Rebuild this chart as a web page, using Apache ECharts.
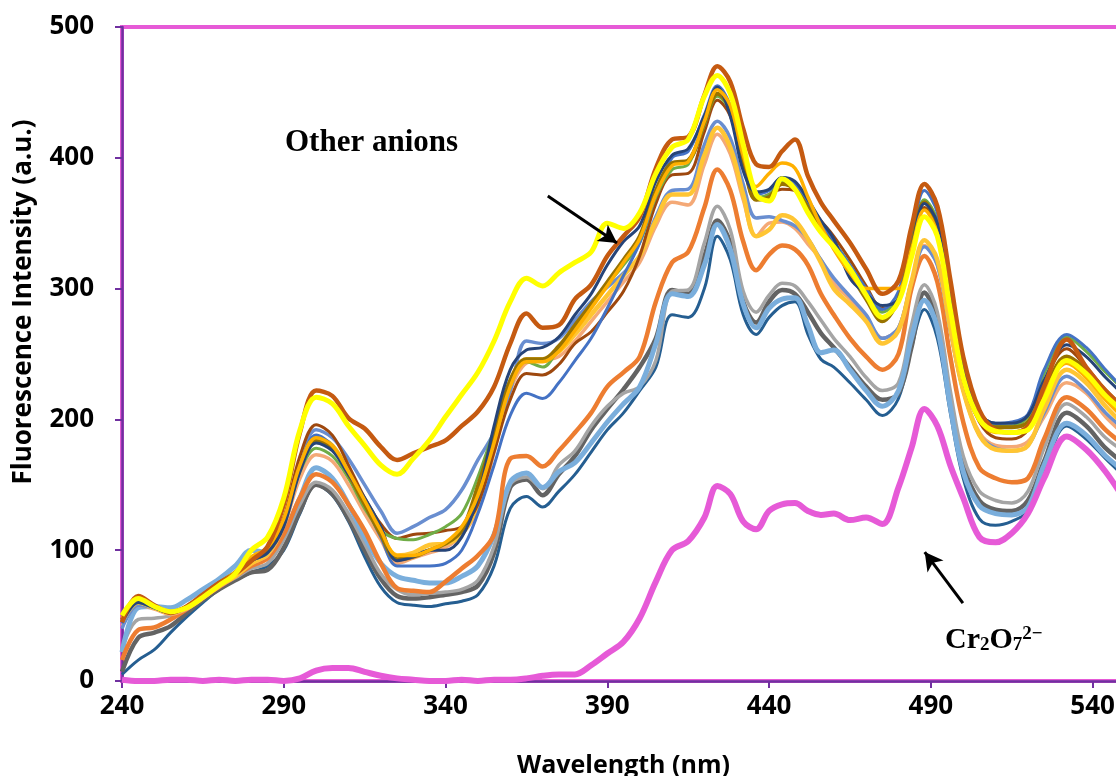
<!DOCTYPE html>
<html>
<head>
<meta charset="utf-8">
<title>Fluorescence spectra</title>
<script src="https://cdn.jsdelivr.net/npm/echarts@6/dist/echarts.min.js"></script>
<style>
  html, body { margin: 0; padding: 0; background: #fff; }
  #chart { width: 1116px; height: 776px; }
</style>
</head>
<body>
<div id="chart"></div>
<script>
// wavelength grid (nm), same for every curve
const wavelength = [240,245,250,255,260,265,270,275,280,285, 290,295,300,305,310,315,320,325,330,335,
  340,345,350,355,360,365,370,375,380,385, 390,395,400,405,410,415,420,424,428,432,
  436,440,444,448,452,456,460,465,470,475, 480,484,488,492,496,500,505,510,515,520,
  525,532,538,544,550];

// other anions - upper group
const darkOrange = [45,65,58,52,57,66,75,82,92,103, 135,190,222,218,201,193,179,169,174,179,
  184,195,206,225,258,281,270,272,292,303, 325,340,355,392,414,416,448,470,458,422,
  395,393,405,414,386,366,352,335,315,296, 306,347,380,363,307,248,207,192,190,195,
  225,261,240,222,208];
const yellow = [50,63,57,53,56,64,73,82,100,110, 140,192,217,212,195,180,165,158,170,184,
  202,219,236,260,290,308,302,312,320,328, 350,346,358,388,408,414,447,463,449,410,
  372,367,384,376,358,343,332,315,295,278, 290,324,355,340,284,232,200,191,190,192,
  215,245,235,218,205];
const navy = [45,60,56,52,56,65,74,82,92,98, 118,160,182,176,158,140,118,92,95,100,
  100,110,140,195,238,253,255,263,280,296, 318,336,348,382,402,407,432,454,432,390,
  374,376,385,382,368,352,338,308,296,287, 292,330,365,350,290,238,205,197,197,203,
  230,257,248,232,218];
const olive = [47,62,57,53,57,66,75,83,94,100, 122,163,184,178,158,135,112,93,95,100,
  105,115,149,188,230,246,246,256,272,288, 305,322,340,375,396,398,427,449,438,398,
  368,370,380,376,362,346,332,312,292,275, 292,333,366,348,288,236,202,194,194,198,
  222,248,238,222,208];
const green = [46,61,56,52,56,65,74,82,92,98, 120,160,178,172,155,132,115,109,108,112,
  118,128,156,192,230,244,240,254,270,287, 303,318,335,370,391,395,425,447,436,396,
  370,372,382,378,365,350,336,318,298,282, 293,335,368,352,292,240,205,195,195,202,
  235,263,252,236,222];
const brown = [45,62,57,53,57,66,75,83,93,100, 125,172,196,188,165,140,120,109,112,113,
  115,118,135,175,215,235,234,242,258,267, 282,298,325,365,387,388,420,444,432,396,
  368,372,376,375,365,352,340,322,302,285, 290,330,362,345,285,230,198,186,185,192,
  228,254,240,222,205];
const blue = [44,60,56,52,56,65,74,82,92,98, 120,165,188,180,160,135,110,88,88,88,
  90,100,128,165,203,220,216,228,245,262, 285,310,335,372,400,405,433,455,440,400,
  372,375,385,380,366,350,336,318,300,284, 298,340,375,358,295,240,205,197,198,204,
  238,265,255,238,222];
const goldUpper = [48,63,57,53,57,66,75,83,95,102, 124,165,186,180,160,138,115,96,96,100,
  106,118,142,182,225,244,244,252,268,285, 302,320,338,372,394,397,428,452,440,402,
  378,388,396,392,370,348,330,312,300,300, 300,330,360,342,285,232,200,190,190,195,
  220,243,232,215,200];

// other anions - middle group
const steelBlue = [40,58,56,52,56,65,74,82,92,98, 120,168,192,186,170,150,130,113,118,125,
  131,146,169,190,222,260,258,262,276,290, 301,312,325,355,375,376,410,428,415,380,
  354,355,352,348,338,322,308,294,280,262, 270,305,332,318,268,222,188,178,176,180,
  205,233,222,205,192];
const gold = [45,60,56,52,56,64,73,80,90,97, 120,165,186,180,160,135,112,96,98,104,
  105,112,136,182,228,246,246,252,265,280, 295,310,325,352,372,372,402,423,408,372,
  340,345,356,352,338,320,300,288,275,258, 268,305,337,322,270,222,188,177,176,180,
  208,238,228,210,195];
const lightOrange = [42,58,55,51,55,63,72,80,90,96, 118,155,173,168,150,128,108,90,94,98,
  102,112,130,175,222,243,245,248,260,275, 290,305,320,348,366,364,395,418,403,368,
  340,350,351,346,334,322,304,292,278,262, 270,305,333,318,268,222,190,180,179,183,
  202,228,220,202,188];

// other anions - lower group
const orange = [16,39,41,47,55,64,72,80,88,94, 112,140,158,152,135,115,90,71,69,68,
  76,86,96,112,170,172,164,176,190,205, 225,236,248,290,320,328,362,391,375,336,
  314,326,333,330,318,296,280,262,248,238, 250,300,325,305,248,198,163,155,152,155,
  185,217,208,192,180];
const gray = [25,47,48,50,56,64,72,79,86,90, 108,135,152,146,128,105,82,70,66,67,
  68,70,77,103,150,156,147,165,176,195, 210,220,225,245,298,299,335,363,345,298,
  282,295,304,302,290,276,262,248,232,222, 228,272,303,282,222,172,145,138,136,145,
  178,212,202,186,175];
const darkGray = [7,33,37,42,52,62,70,77,83,85, 102,130,150,143,124,100,78,65,63,64,
  66,68,73,98,148,154,142,158,172,192, 208,223,240,262,299,296,325,352,335,290,
  274,290,299,296,282,266,255,240,225,215, 220,255,297,276,215,165,138,131,130,138,
  168,205,195,178,166];
const lightBlue = [22,56,57,56,62,70,78,88,100,98, 112,140,163,155,135,110,90,80,77,75,
  75,80,88,112,152,159,148,160,167,182, 198,212,225,258,296,294,318,349,330,288,
  270,285,292,293,272,251,253,238,222,210, 222,262,291,270,210,160,134,128,127,133,
  165,197,188,172,160];
const darkBlue = [5,16,24,37,49,60,70,77,83,88, 100,128,150,142,122,95,72,60,58,57,
  59,61,66,88,132,141,133,145,158,175, 192,205,222,240,280,278,300,340,322,280,
  265,278,287,290,265,246,240,228,215,203, 216,255,284,262,205,155,124,119,122,130,
  160,195,185,170,156];

// Cr2O7 2-
const dichromate = [1,0,0,1,1,0,1,0,1,1, 0,2,8,10,10,7,4,2,1,0,
  0,1,0,1,1,2,4,5,5,12, 21,30,48,76,100,107,125,149,143,122,
  116,130,135,136,130,127,128,123,125,120, 148,178,208,195,165,140,110,106,113,128,
  155,187,177,160,138];

// tick labels
const xTicks = [240, 290, 340, 390, 440, 490, 540];
const yTicks = [0, 100, 200, 300, 400, 500];

const axisPurple = '#7030A0';
const pink = '#E65AD7';
const labelFont = { color: '#000', fontFamily: 'Open Sans', fontWeight: 'bold', fontSize: 26 };

function curve(name, values, color, width) {
  return {
    name: name,
    type: 'line',
    data: wavelength.map((w, i) => [w, values[i]]),
    showSymbol: false,
    smooth: 0.35,
    lineStyle: { color: color, width: width },
    itemStyle: { color: color },
    z: 2
  };
}

const series = [
  curve('darkBlue', darkBlue, '#255E91', 3),
  curve('darkGray', darkGray, '#636363', 4.5),
  curve('gray', gray, '#A5A5A5', 3.5),
  curve('lightBlue', lightBlue, '#7AAEDC', 5),
  curve('orange', orange, '#ED7D31', 4.5),
  curve('lightOrange', lightOrange, '#F4A977', 3.5),
  curve('steelBlue', steelBlue, '#698ED0', 3.5),
  curve('gold', gold, '#FFC533', 4.5),
  curve('brown', brown, '#9E480E', 3),
  curve('green', green, '#70AD47', 3),
  curve('blue', blue, '#4472C4', 3),
  curve('olive', olive, '#997300', 4),
  curve('navy', navy, '#264478', 3),
  curve('goldUpper', goldUpper, '#FFB000', 3.5),
  curve('darkOrange', darkOrange, '#C55A11', 4.5),
  curve('yellow', yellow, '#FFFF00', 5)
];

const cr = curve('Cr2O7', dichromate, pink, 6);
cr.markLine = {
  silent: true,
  symbol: ['none', 'arrow'],
  symbolSize: [15, 18],
  label: { show: false },
  lineStyle: { color: '#000', width: 3, type: 'solid' },
  data: [
    [{ coord: [371.6, 370.8] }, { coord: [393, 334.9] }],
    [{ coord: [499.9, 59.6] }, { coord: [488.1, 98.6] }]
  ]
};
series.push(cr);

const chart = echarts.init(document.getElementById('chart'));
chart.setOption({
  animation: false,
  grid: {
    left: 122, width: 1003, top: 27, bottom: 95,
    outerBoundsMode: 'none', containLabel: false,
    show: true, borderColor: pink, borderWidth: 4
  },
  xAxis: {
    type: 'value', min: 240, max: 550, interval: 50,
    axisLine: { lineStyle: { color: axisPurple, width: 2.5 } },
    axisTick: { show: true, length: 7, lineStyle: { color: axisPurple, width: 2 } },
    splitLine: { show: false },
    axisLabel: Object.assign({ margin: 13, showMaxLabel: false,
      formatter: v => (xTicks.indexOf(v) >= 0 ? String(v) : '') }, labelFont),
    name: 'Wavelength (nm)', nameLocation: 'middle', nameGap: 72,
    nameTextStyle: { color: '#000', fontFamily: 'Open Sans', fontWeight: 'bold', fontSize: 25 }
  },
  yAxis: {
    type: 'value', min: 0, max: 500, interval: 100,
    axisLine: { show: true, lineStyle: { color: axisPurple, width: 2.5 } },
    axisTick: { show: true, length: 7, lineStyle: { color: axisPurple, width: 2 } },
    splitLine: { show: false },
    axisLabel: Object.assign({ margin: 28,
      formatter: v => (yTicks.indexOf(v) >= 0 ? String(v) : '') }, labelFont)
  },
  graphic: [
    {
      type: 'text', x: 24, y: 302, rotation: Math.PI / 2,
      style: { text: 'Fluorescence Intensity (a.u.)', fill: '#000', fontFamily: 'Open Sans',
        fontWeight: 'bold', fontSize: 26, align: 'center', verticalAlign: 'middle' }
    },
    {
      type: 'text', x: 285, y: 143,
      style: { text: 'Other anions', fill: '#000', fontFamily: 'Liberation Serif',
        fontWeight: 'bold', fontSize: 31, align: 'left', verticalAlign: 'middle' }
    },
    {
      type: 'text', x: 945, y: 640,
      style: {
        text: '{b|Cr}{s|2}{b|O}{s|7}{p|2\u2212}',
        align: 'left', verticalAlign: 'middle',
        rich: {
          b: { fill: '#000', fontFamily: 'Liberation Serif', fontWeight: 'bold', fontSize: 30, lineHeight: 30 },
          s: { fill: '#000', fontFamily: 'Liberation Serif', fontWeight: 'bold', fontSize: 19, lineHeight: 19, verticalAlign: 'bottom' },
          p: { fill: '#000', fontFamily: 'Liberation Serif', fontWeight: 'bold', fontSize: 19, lineHeight: 19, verticalAlign: 'top' }
        }
      }
    }
  ],
  series: series
});
</script>
</body>
</html>
